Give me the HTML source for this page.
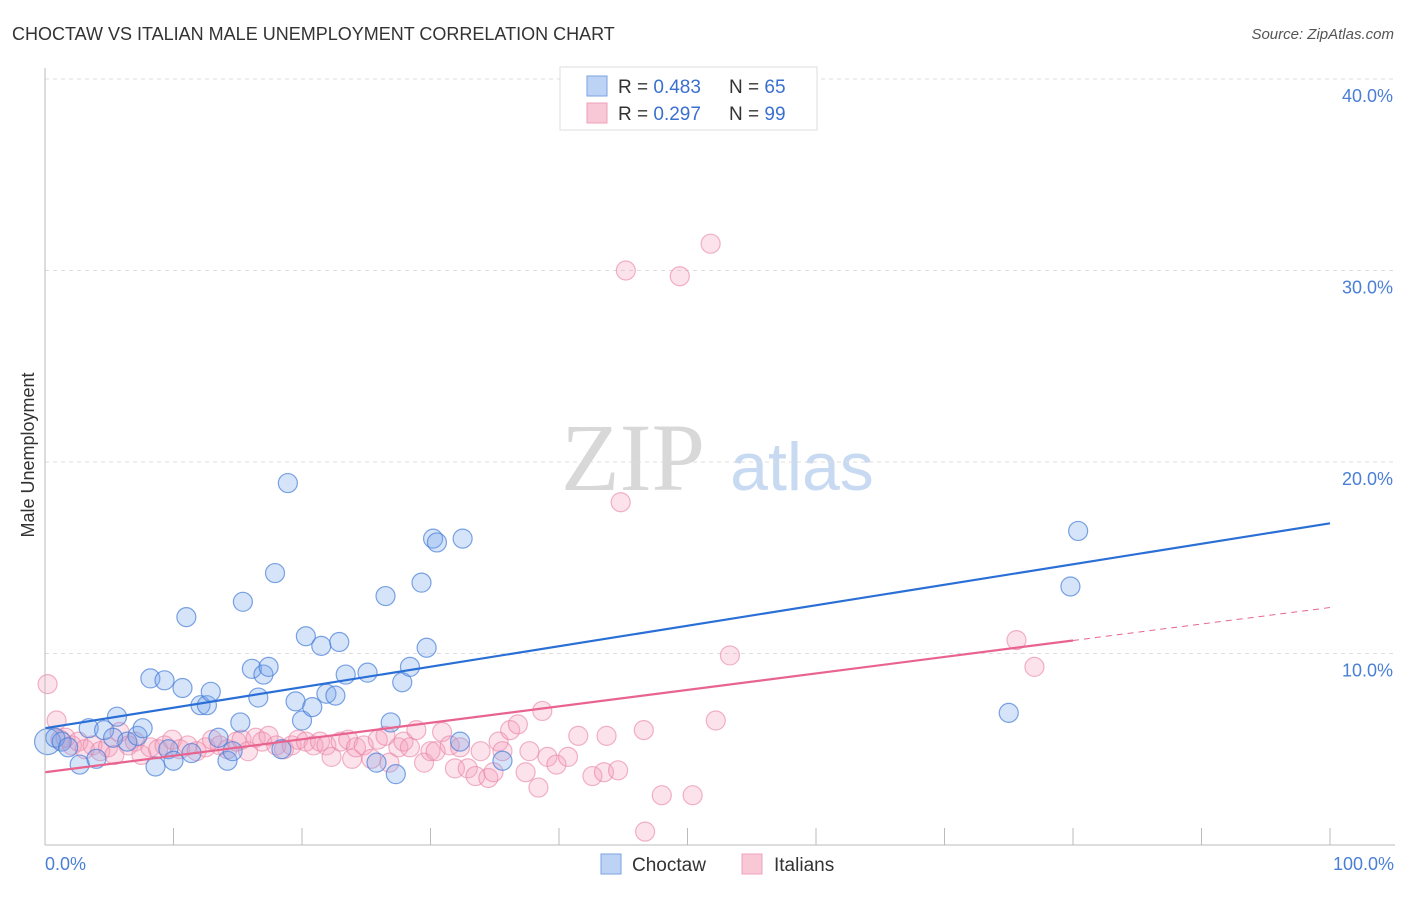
<!DOCTYPE html>
<html><head><meta charset="utf-8"><style>
body{margin:0;background:#fff;font-family:"Liberation Sans",sans-serif;}
svg text{font-family:"Liberation Sans",sans-serif;}
</style></head><body>
<svg id="chart" width="1406" height="892" xmlns="http://www.w3.org/2000/svg">
<text x="12" y="40" font-size="18" fill="#333">CHOCTAW VS ITALIAN MALE UNEMPLOYMENT CORRELATION CHART</text>
<text x="1394" y="39" font-size="15" fill="#555" font-style="italic" text-anchor="end">Source: ZipAtlas.com</text>
<text x="633" y="490" font-size="96" fill="#d8d8d8" style="font-family:'Liberation Serif',serif" text-anchor="middle">ZIP</text>
<text x="802" y="490" font-size="68" fill="#c8daf2" text-anchor="middle">atlas</text>
<text transform="translate(34,455) rotate(-90)" font-size="18" fill="#333" text-anchor="middle">Male Unemployment</text>
<g id="grid"></g><g id="pts"></g><g id="lines"></g>
<line x1="45" y1="845" x2="1395" y2="845" stroke="#bbb"/>
<line x1="45" y1="68" x2="45" y2="845" stroke="#bbb"/>
<text x="45" y="870" font-size="18" fill="#4a7fd6">0.0%</text>
<text x="1394" y="870" font-size="18" fill="#4a7fd6" text-anchor="end">100.0%</text>
<g>
<rect x="560" y="67" width="257" height="63" fill="#fff" stroke="#ddd"/>
<rect x="587" y="76" width="20" height="20" fill="#bcd3f5" stroke="#7aa3e0"/>
<rect x="587" y="103" width="20" height="20" fill="#f9c8d6" stroke="#eea0b8"/>
<text x="618" y="93" font-size="19" fill="#333">R = <tspan fill="#3a70d0">0.483</tspan></text>
<text x="729" y="93" font-size="19" fill="#333">N = <tspan fill="#3a70d0">65</tspan></text>
<text x="618" y="120" font-size="19" fill="#333">R = <tspan fill="#3a70d0">0.297</tspan></text>
<text x="729" y="120" font-size="19" fill="#333">N = <tspan fill="#3a70d0">99</tspan></text>
</g>
<g>
<rect x="601" y="854" width="20" height="20" fill="#bcd3f5" stroke="#7aa3e0"/>
<text x="632" y="871" font-size="19" fill="#333">Choctaw</text>
<rect x="742" y="854" width="20" height="20" fill="#f9c8d6" stroke="#eea0b8"/>
<text x="774" y="871" font-size="19" fill="#333">Italians</text>
</g>
</svg>
<script>
const yTicks=[10,20,30,40];
const yTickLabels=["10.0%","20.0%","30.0%","40.0%"];
const xTicks=[0,10,20,30,40,50,60,70,80,90,100];
const choctawX=[0.2,0.8,1.3,1.8,2.7,3.4,4.0,4.6,5.3,5.6,6.4,7.2,7.6,8.2,8.6,9.3,9.6,10.0,10.7,11.0,11.4,12.1,12.6,12.9,13.5,14.2,14.6,15.2,15.4,16.1,16.6,17.0,17.4,17.9,18.4,18.9,19.5,20.0,20.3,20.8,21.5,21.9,22.6,22.9,23.4,25.1,25.8,26.5,26.9,27.3,27.8,28.4,29.3,29.7,30.2,30.5,32.3,32.5,35.6,75.0,79.8,80.4];
const choctawY=[5.4,5.6,5.4,5.1,4.2,6.1,4.5,6.0,5.6,6.7,5.4,5.7,6.1,8.7,4.1,8.6,5.0,4.4,8.2,11.9,4.8,7.3,7.3,8.0,5.6,4.4,4.9,6.4,12.7,9.2,7.7,8.9,9.3,14.2,5.0,18.9,7.5,6.5,10.9,7.2,10.4,7.9,7.8,10.6,8.9,9.0,4.3,13.0,6.4,3.7,8.5,9.3,13.7,10.3,16.0,15.8,5.4,16.0,4.4,6.9,13.5,16.4];
const italiansX=[0.2,0.9,1.2,1.6,2.1,2.6,3.1,3.7,4.3,4.9,5.4,5.8,6.5,7.0,7.5,8.2,8.8,9.3,9.9,10.5,11.1,11.8,12.5,13.0,13.6,14.2,14.9,15.3,15.8,16.4,16.9,17.4,18.0,18.6,19.2,19.7,20.3,20.9,21.4,21.9,22.3,23.0,23.6,23.9,24.2,24.8,25.4,25.9,26.5,26.8,27.5,27.9,28.4,28.9,29.5,30.0,30.4,30.9,31.5,31.9,32.3,32.9,33.5,33.9,34.5,34.9,35.3,35.6,36.2,36.8,37.4,37.7,38.4,38.7,39.1,39.8,40.7,41.5,42.6,43.5,43.7,44.6,44.8,45.2,46.6,46.7,48.0,49.4,50.4,51.8,52.2,53.3,75.6,77.0];
const italiansY=[8.4,6.5,5.5,5.6,5.2,5.4,5.0,5.2,4.9,5.1,4.7,5.9,5.2,5.4,4.7,5.1,5.0,5.2,5.5,5.0,5.2,4.9,5.1,5.5,5.2,5.0,5.4,5.5,4.9,5.6,5.4,5.7,5.2,5.0,5.2,5.5,5.4,5.2,5.4,5.2,4.6,5.4,5.5,4.5,5.1,5.2,4.5,5.5,5.7,4.3,5.1,5.4,5.1,6.0,4.3,4.9,4.9,5.9,5.2,4.0,5.1,4.0,3.6,4.9,3.5,3.8,5.4,4.9,6.0,6.3,3.8,4.9,3.0,7.0,4.6,4.2,4.6,5.7,3.6,3.8,5.7,3.9,17.9,30.0,6.0,0.7,2.6,29.7,2.6,31.4,6.5,9.9,10.7,9.3];
const choctawFit=[6.1,16.8];   // y at x=0 and x=100
const italiansFit=[3.8,12.4];
const italiansSolidEnd=80;
const NS="http://www.w3.org/2000/svg";
const X=v=>45+v*12.85, Y=v=>845-v*19.15;
function mk(t,a){const e=document.createElementNS(NS,t);for(const k in a)e.setAttribute(k,a[k]);return e;}
const grid=document.getElementById('grid');
yTicks.forEach((t,i)=>{
  const l=mk('line',{x1:45,x2:1393,y1:Y(t),y2:Y(t),stroke:'#ddd','stroke-dasharray':'4 4'});
  
  
  grid.appendChild(l);
  const tx=mk('text',{x:1393,y:Y(t)+23,'font-size':18,fill:'#4a7fd6','text-anchor':'end'});
  tx.textContent=yTickLabels[i];
  
  
  grid.appendChild(tx);
});
xTicks.forEach(t=>{
  const l=mk('line',{x1:X(t),x2:X(t),y1:828,y2:845,stroke:'#bbb'});
  
  
  grid.appendChild(l);
});
const pts=document.getElementById('pts');
italiansX.forEach((x,i)=>{
  const c=mk('circle',{cx:X(x),cy:Y(italiansY[i]),r:9.5,fill:'rgba(244,160,188,0.3)',stroke:'rgba(232,130,165,0.6)','stroke-width':1.2});
  
  
  pts.appendChild(c);
});
choctawX.forEach((x,i)=>{
  const c=mk('circle',{cx:X(x),cy:Y(choctawY[i]),r:i===0?13:9.5,fill:'rgba(120,165,235,0.3)',stroke:'rgba(70,125,215,0.7)','stroke-width':1.2});
  
  
  pts.appendChild(c);
});
const lines=document.getElementById('lines');
const f=(fit,x)=>fit[0]+(fit[1]-fit[0])*x/100;
let l=mk('line',{x1:X(0),y1:Y(f(choctawFit,0)),x2:X(100),y2:Y(f(choctawFit,100)),stroke:'#2a6fd6','stroke-width':2.2});


lines.appendChild(l);
l=mk('line',{x1:X(0),y1:Y(f(italiansFit,0)),x2:X(italiansSolidEnd),y2:Y(f(italiansFit,italiansSolidEnd)),stroke:'#e8648f','stroke-width':2.2});


lines.appendChild(l);
l=mk('line',{x1:X(italiansSolidEnd),y1:Y(f(italiansFit,italiansSolidEnd)),x2:X(100),y2:Y(f(italiansFit,100)),stroke:'#e8648f','stroke-width':1,'stroke-dasharray':'6 5'});


lines.appendChild(l);
</script>
</body></html>
